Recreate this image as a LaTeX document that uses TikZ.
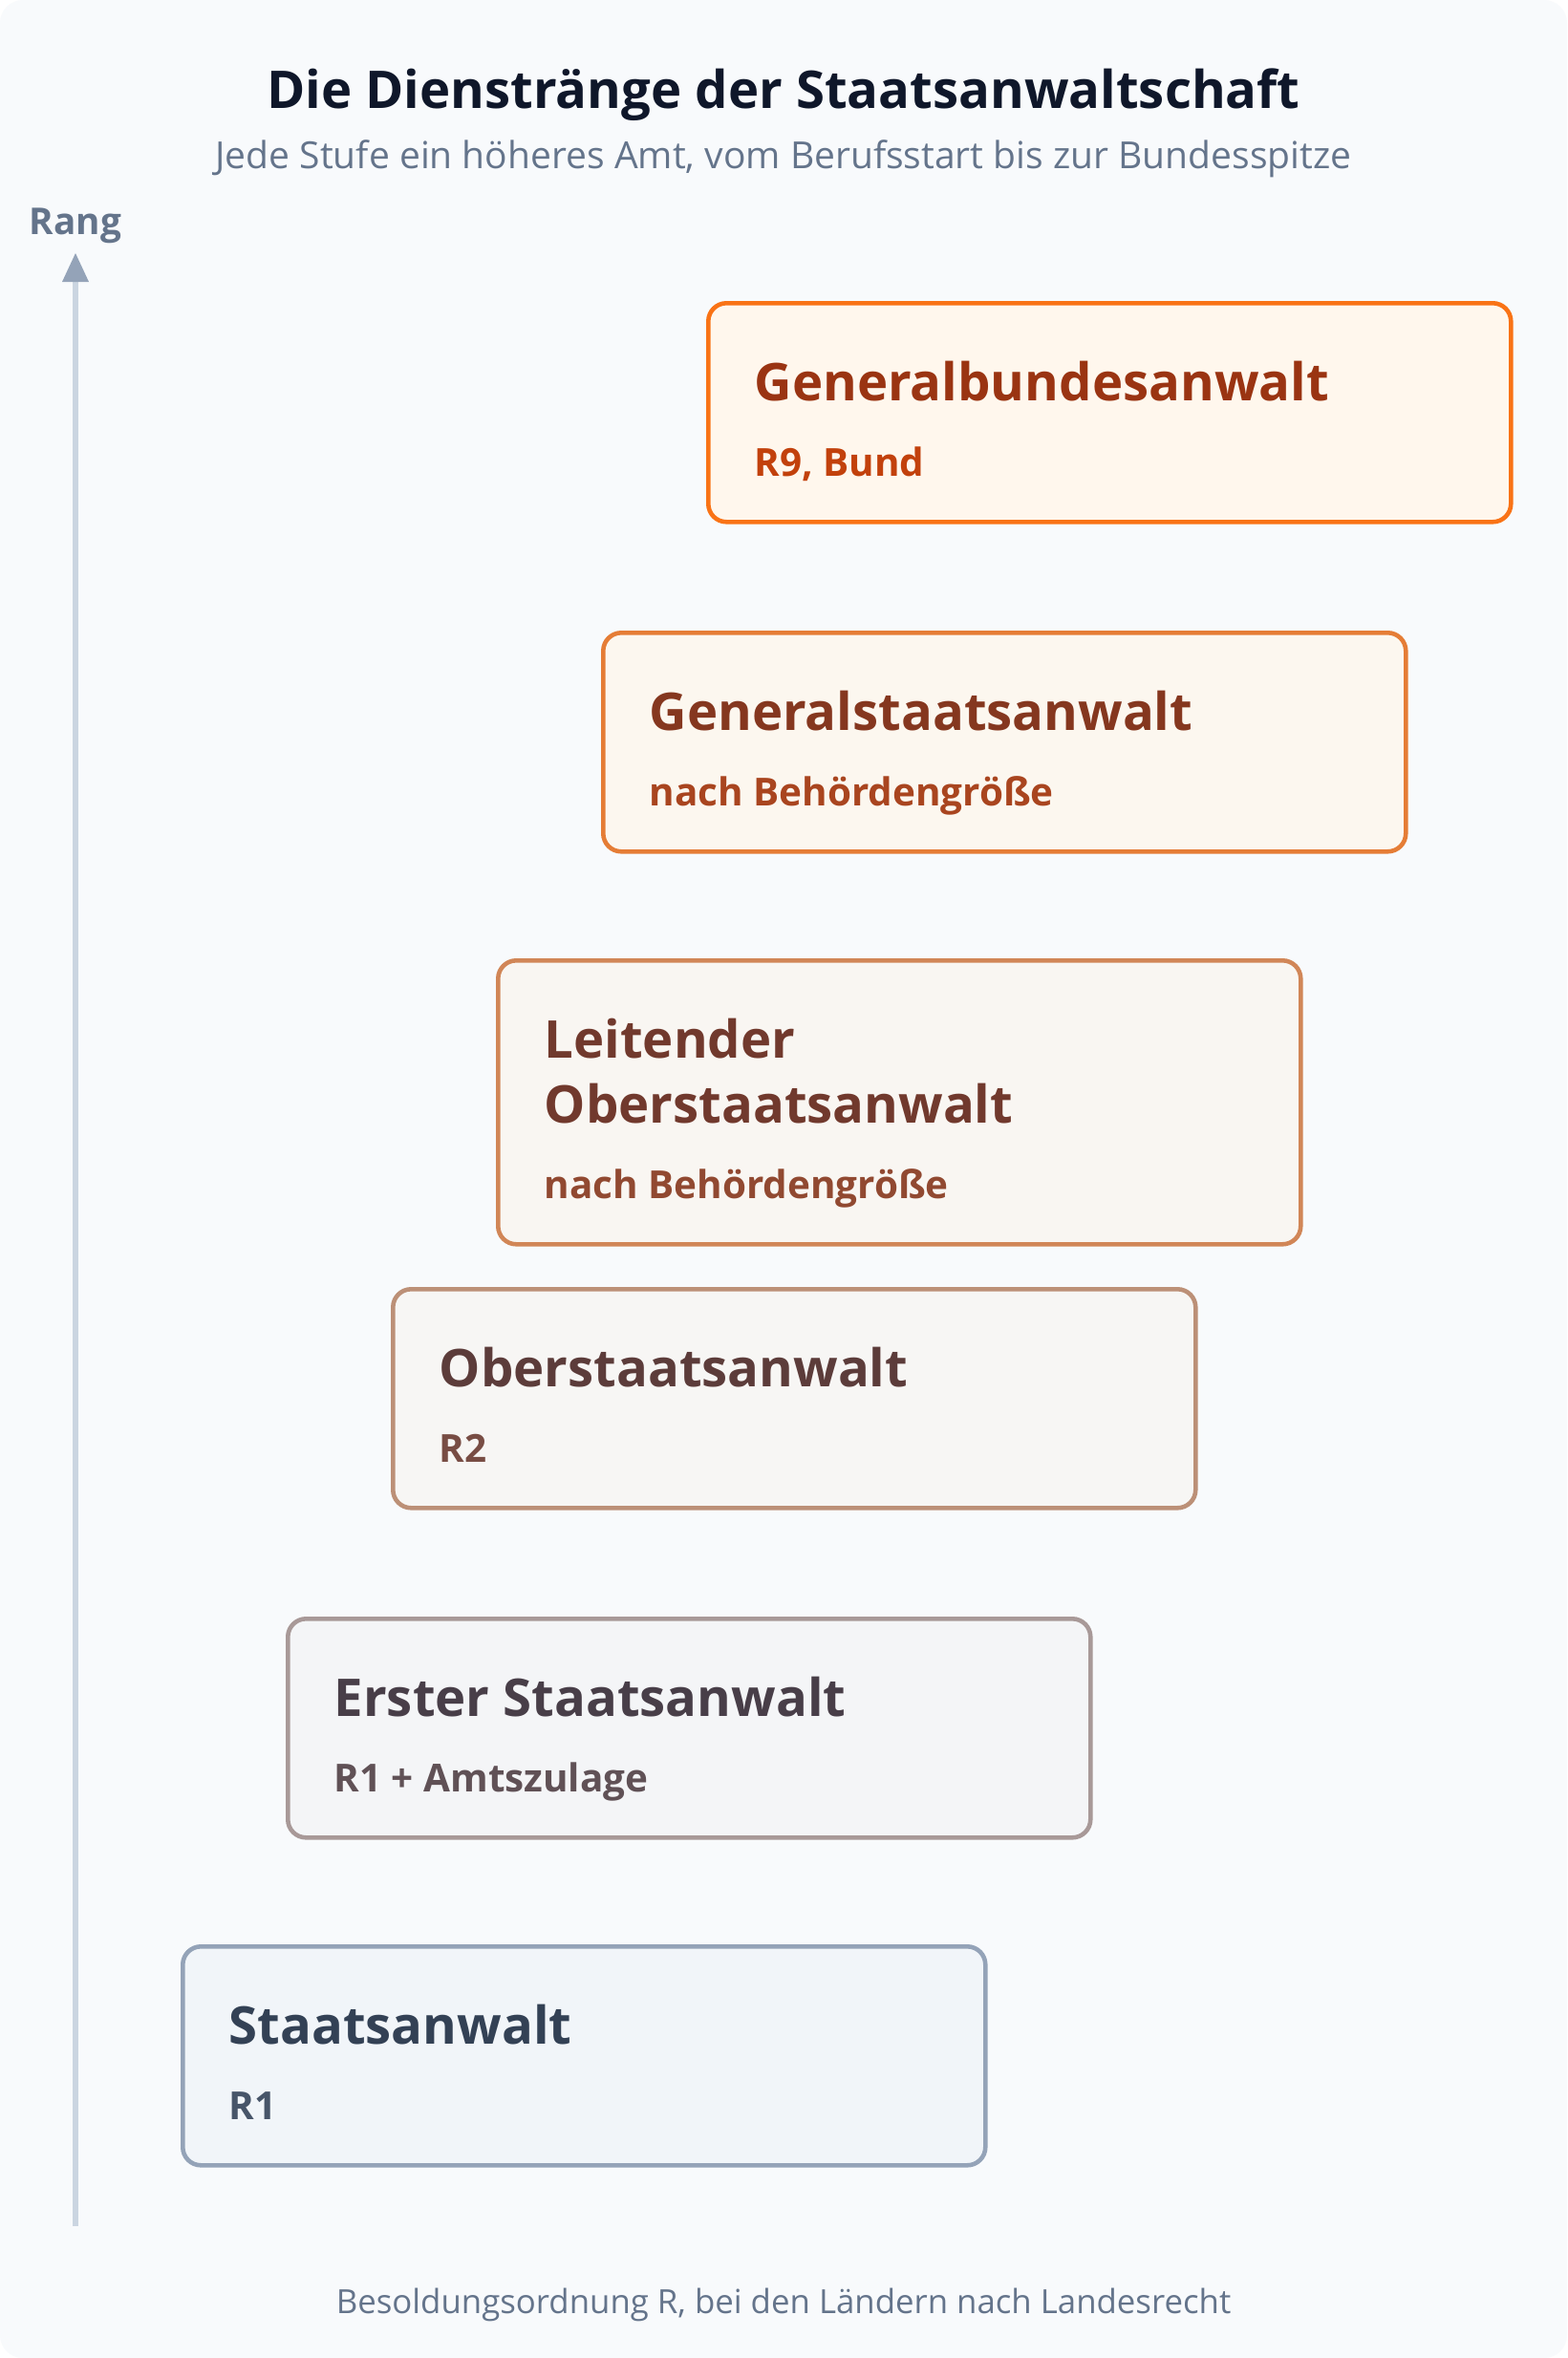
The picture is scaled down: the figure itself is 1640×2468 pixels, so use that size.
\documentclass[tikz,border=0pt]{standalone}
\usepackage{fontspec}
\setmainfont{Open Sans}
\usetikzlibrary{arrows.meta,positioning}

\definecolor{pagebg}{HTML}{F8FAFC}
\definecolor{titlecol}{HTML}{0F172A}
\definecolor{mutedcol}{HTML}{64748B}
\definecolor{axiscol}{HTML}{CBD5E1}
\definecolor{tipcol}{HTML}{94A3B8}
% start (slate) and end (orange) of the rank colours
\definecolor{slatebd}{HTML}{94A3B8}
\definecolor{slatebg}{HTML}{F1F5F9}
\definecolor{slatehd}{HTML}{334155}
\definecolor{slatesb}{HTML}{475569}
\definecolor{orangebd}{HTML}{F97316}
\definecolor{orangebg}{HTML}{FFF7ED}
\definecolor{orangehd}{HTML}{9A3412}
\definecolor{orangesb}{HTML}{C2410C}

\begin{document}
\begin{tikzpicture}[x=0.1mm,y=-0.1mm]
  % Styles
  \tikzstyle{rank box}=[rectangle,rounded corners=1.9mm,line width=1.3pt,
    minimum width=84mm,anchor=north west,inner sep=0pt]
  \tikzstyle{rank head}=[anchor=base west,inner sep=0pt,align=left,
    font=\fontsize{15.5}{19.3}\selectfont\bfseries,text depth=0pt]
  \tikzstyle{rank sub}=[anchor=base west,inner sep=0pt,
    font=\fontsize{11.5}{14}\selectfont\bfseries]

  % Background
  \fill[white] (0,0) rectangle (1640,2468);
  \fill[pagebg,rounded corners=2.4mm] (0,0) rectangle (1640,2468);
  \useasboundingbox (0,0) rectangle (1640,2468);

  % Title
  \node[anchor=base,font=\fontsize{15.5}{19}\selectfont\bfseries,text=titlecol]
    (title) at (820,113) {Die Dienstränge der Staatsanwaltschaft};
  \node[anchor=base,font=\fontsize{11.1}{13}\selectfont,text=mutedcol]
    (subtitle) at (820,176)
    {Jede Stufe ein höheres Amt, vom Berufsstart bis zur Bundesspitze};

  % Axis
  \coordinate (axis bottom) at (79,2330);
  \coordinate (axis top) at (79,265);
  \draw[axiscol,line width=0.6mm] (axis bottom) -- (79,290);
  \fill[tipcol] (axis top) -- (65,295) -- (93,295) -- cycle;
  \node[anchor=base,font=\fontsize{11}{13}\selectfont\bfseries,text=mutedcol]
    (rang) at (79,245) {Rang};

  % The ranks, from the bottom up (\dy: extra drop for a two-line heading)
  \foreach \i/\name/\ytop/\h/\dy/\head/\sub in {
      0/sa/2035/229/104/{Staatsanwalt}/{R1},
      1/esa/1692/229/104/{Erster Staatsanwalt}/{R1 + Amtszulage},
      2/osa/1347/229/104/{Oberstaatsanwalt}/{R2},
      3/losa/1003/297/172/{Leitender\\Oberstaatsanwalt}/{nach Behördengröße},
      4/gsa/660/229/104/{Generalstaatsanwalt}/{nach Behördengröße},
      5/gba/315/229/104/{Generalbundesanwalt}/{R9, Bund}}
  {
    \pgfmathsetmacro{\xleft}{189+110*\i}
    \pgfmathsetmacro{\mix}{20*\i}
    \colorlet{bd}{orangebd!\mix!slatebd}
    \colorlet{bg}{orangebg!\mix!slatebg}
    \colorlet{hd}{orangehd!\mix!slatehd}
    \colorlet{sb}{orangesb!\mix!slatesb}
    \node[rank box,draw=bd,fill=bg,minimum height=\h*0.1mm]
      (\name) at (\xleft,\ytop) {};
    \node[rank head,text=hd] (\name-head)
      at ([shift={(50,\dy)}]\name.north west) {\head};
    \node[rank sub,text=sb] (\name-sub)
      at ([yshift=-7.9mm]\name-head.south west) {\sub};
  }

  % Footer
  \node[anchor=base,font=\fontsize{9.9}{12}\selectfont,text=mutedcol]
    (footer) at (820,2421)
    {Besoldungsordnung R, bei den Ländern nach Landesrecht};
\end{tikzpicture}
\end{document}
